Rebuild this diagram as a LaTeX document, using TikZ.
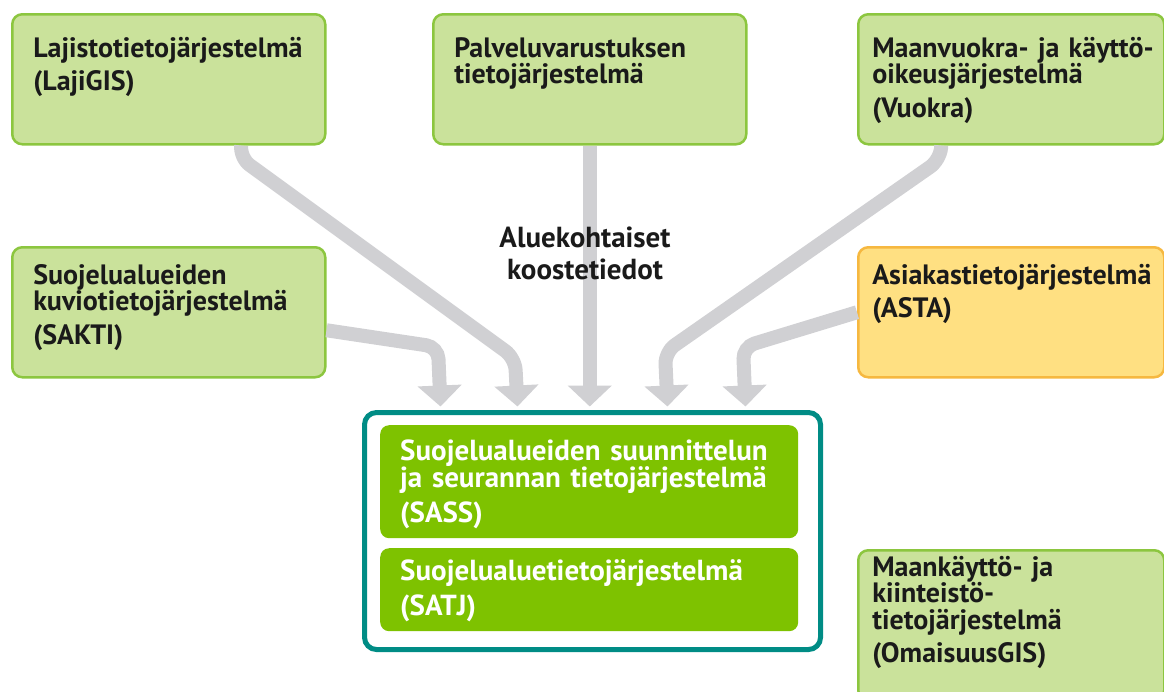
\documentclass[tikz,border=0pt]{standalone}
\usepackage{fontspec}
\setmainfont{PT Sans}
\usepackage{tikz}
\usetikzlibrary{arrows.meta,positioning,calc}
\definecolor{boxgreen}{RGB}{202,226,155}
\definecolor{edgegreen}{RGB}{140,198,63}
\definecolor{boxyellow}{RGB}{255,224,130}
\definecolor{edgeyellow}{RGB}{246,184,64}
\definecolor{sassgreen}{RGB}{126,194,0}
\definecolor{frameteal}{RGB}{0,140,133}
\definecolor{flowgray}{RGB}{208,208,211}
\definecolor{inkblack}{RGB}{26,26,26}

\begin{document}
\begin{tikzpicture}[x=1pt, y=-1pt,
    font=\fontsize{28}{26.5}\selectfont\bfseries,
    sysbox/.style={draw=edgegreen, line width=2.5pt, fill=boxgreen, rounded corners=10pt,
                   anchor=north west, align=left, text=inkblack, inner xsep=21pt, inner ysep=0pt,
                   text width=271pt, text height=43pt, text depth=87pt},
    rightbox/.style={sysbox, inner xsep=14pt, text width=278pt},
    corebox/.style={fill=sassgreen, rounded corners=9pt, anchor=north west, align=left,
                    text=white, inner xsep=20pt, inner ysep=0pt, text width=378pt,
                    font=\fontsize{29}{27}\selectfont\bfseries},
    frame/.style={draw=frameteal, line width=5pt, fill=white, rounded corners=12pt,
                  anchor=north west, inner sep=0pt, minimum width=456pt, minimum height=237pt},
    flow/.style={draw=flowgray, line width=14pt, rounded corners=12pt,
                 -{Triangle[length=21pt, width=43pt]}},
    lbl/.style={font=\fontsize{29}{32}\selectfont\bfseries, align=center, text=inkblack}]

    \useasboundingbox (0,0) rectangle (1164,691);

    \node[sysbox] (laji) at (11,13) {Lajistotietojärjestelmä\\[7pt](LajiGIS)};
    \node[sysbox] (palv) at (432,13) {Palveluvarustuksen\\tietojärjestelmä};
    \node[rightbox] (vuokra) at (857,13) {\mbox{Maanvuokra- ja käyttö-}\\oikeusjärjestelmä\\[7pt](Vuokra)};
    \node[sysbox, text height=37pt, text depth=93pt] (sakti) at (11,246) {Suojelualueiden\\kuviotietojärjestelmä\\[7pt](SAKTI)};
    \node[rightbox, draw=edgeyellow, fill=boxyellow, text height=37pt, text depth=93pt] (asta) at (857,246) {Asiakastietojärjestelmä\\[7pt](ASTA)};
    \node[rightbox, text height=26pt, text depth=124pt] (omai) at (857,549) {Maankäyttö- ja\\kiinteistö-\\tietojärjestelmä\\[7pt](OmaisuusGIS)};

    \node[frame] (core) at (362,410) {};
    \node[corebox, text height=35pt, text depth=78pt] (sass) at (380,425) {Suojelualueiden suunnittelun\\ja seurannan tietojärjestelmä\\[8pt](SASS)};
    \node[corebox, text height=32pt, text depth=51pt] (satj) at (380,548) {Suojelualuetietojärjestelmä\\[8pt](SATJ)};

    % flows into the core
    \draw[flow] ([yshift=-18pt]sakti.east) -- (438,347) -- ([xshift=-152pt, yshift=3.5pt]core.north);
    \draw[flow] ([xshift=72.5pt]laji.south) -- (240,158) -- (515,358) -- ([xshift=-75pt, yshift=3.5pt]core.north);
    \draw[flow] (palv.south) -- ([yshift=3.5pt]palv.south |- core.north);
    \draw[flow] ([xshift=-70pt]vuokra.south) -- (940,160) -- (665,352) -- ([xshift=75pt, yshift=3.5pt]core.north);
    \draw[flow] (asta.west) -- (743,347) -- ([xshift=153pt, yshift=3.5pt]core.north);

    \node[lbl] (koste) at (585,253) {Aluekohtaiset\\koostetiedot};
\end{tikzpicture}
\end{document}
